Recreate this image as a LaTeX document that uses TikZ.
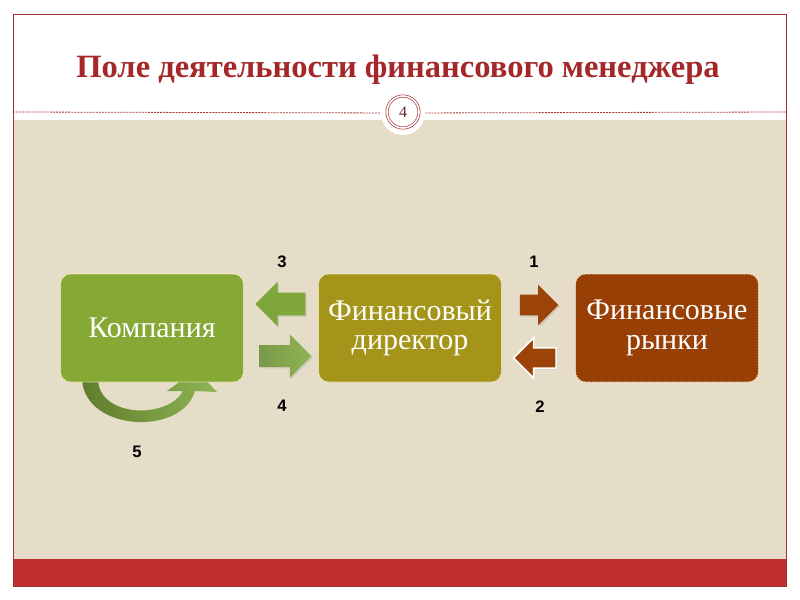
\documentclass[tikz,border=0pt]{standalone}
\usepackage{fontspec}
\setmainfont{Liberation Serif}
\newfontfamily\numfont{Liberation Sans}
\usetikzlibrary{shapes.arrows,shadows}

\definecolor{framered}{HTML}{A33234}
\definecolor{titlered}{HTML}{A4282A}
\definecolor{bandred}{HTML}{C12E2E}
\definecolor{bgbeige}{HTML}{E6DDC8}
\definecolor{compgreen}{HTML}{86A834}
\definecolor{dirolive}{HTML}{A5941A}
\definecolor{marketbrown}{HTML}{983F06}
\definecolor{arrowgreen}{HTML}{7FA63A}
\definecolor{arrowlight}{HTML}{8FB455}
\definecolor{arrowbrown}{HTML}{9B4308}

\begin{document}
\begin{tikzpicture}[x=0.75pt,y=-0.75pt]
    \tikzstyle{block}=[rounded corners=7.5pt,minimum width=137pt,minimum height=81pt,inner sep=2pt,draw=white!80!yellow,dash pattern=on 1.2pt off 0.8pt,line width=0.4pt,text=white,align=center,font=\fontsize{22.5}{22}\selectfont]
    \tikzstyle{blockarrow}=[single arrow,inner sep=0pt,single arrow head extend=8pt,drop shadow={opacity=0.25,shadow xshift=1pt,shadow yshift=-1pt}]
    \tikzstyle{num}=[font=\numfont\bfseries\fontsize{12.5}{14}\selectfont]

    \useasboundingbox (0,0) rectangle (800,600);

    % slide background
    \fill[bgbeige] (13,120) rectangle (786,559);
    \fill[bandred] (13,559) rectangle (786,586);
    \draw[framered,line width=0.6pt] (13,14) rectangle (786,586);

    % title and page number
    \node[text=titlered,font=\bfseries\fontsize{24.4}{27}\selectfont] (title) at (398,70) {Поле деятельности финансового менеджера};
    \node[circle,fill=white,minimum size=33pt,inner sep=0pt] (bump) at (403,113) {};
    \draw[framered,dash pattern=on 1.5pt off 0.8pt,line width=0.6pt] (13,112) -- (bump);
    \draw[framered,dash pattern=on 1.5pt off 0.8pt,line width=0.6pt] (786,112) -- (bump);
    \node[circle,draw=framered,double,double distance=1.2pt,line width=0.5pt,minimum size=24pt,inner sep=0pt,text=framered!70!black,font=\fontsize{12}{12}\selectfont] (page) at (403,112) {4};

    % curved arrow (5)
    \shade[left color=arrowgreen!75!black,right color=arrowlight]
        (82,380) .. controls (86,432) and (182,436) .. (195,391)
        -- (217,392) -- (196,370) -- (167,391) -- (183,391)
        .. controls (168,419) and (100,418) .. (98,380) -- cycle;

    % blocks
    \node[block,fill=compgreen] (comp) at (152,328) {Компания};
    \node[block,fill=dirolive] (dir) at (410,328) {Финансовый\\директор};
    \node[block,fill=marketbrown] (mkt) at (667,328) {Финансовые\\рынки};

    % block arrows
    \node[blockarrow,fill=arrowgreen,shape border rotate=180,minimum height=37.5pt,inner ysep=8.25pt,single arrow head extend=8.25pt] (a3) at (286,304) {};
    \node[blockarrow,left color=arrowlight!85!black,right color=arrowlight,minimum height=39pt,inner ysep=8pt,single arrow head extend=8pt] (a4) at (280,356) {};
    \node[blockarrow,fill=arrowbrown,minimum height=29pt,inner ysep=7.5pt,single arrow head extend=7.5pt] (a1) at (534,305) {};
    \node[blockarrow,fill=arrowbrown,draw=white,line width=1.2pt,shape border rotate=180,minimum height=32pt,inner ysep=7pt,single arrow head extend=7.5pt] (a2) at (540,358) {};

    % numbers
    \node[num] (n3) at (282,262) {3};
    \node[num] (n1) at (534,262) {1};
    \node[num] (n4) at (282,406) {4};
    \node[num] (n2) at (540,407) {2};
    \node[num] (n5) at (137,452) {5};
\end{tikzpicture}
\end{document}
